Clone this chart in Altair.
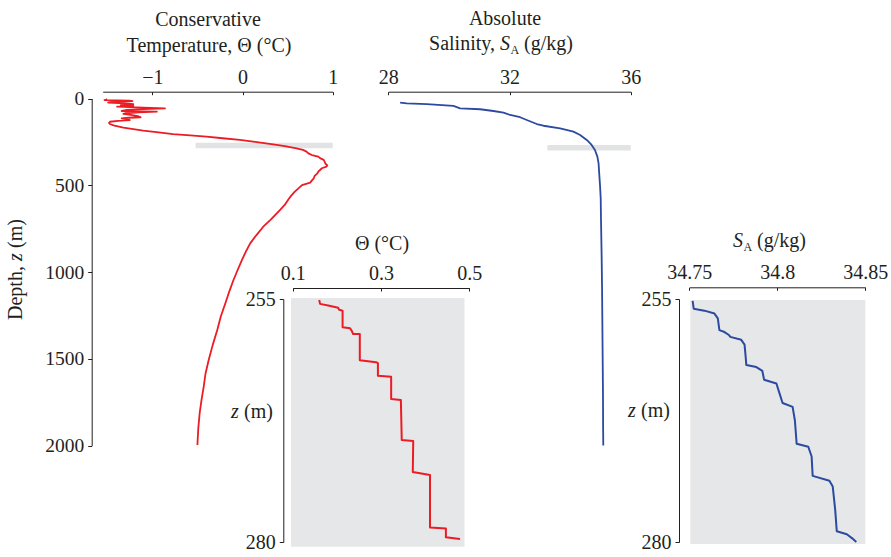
import altair as alt
import pandas as pd

FONT = "Liberation Serif"
RED = "#ec1c24"
BLUE = "#2c4a9f"
INK = "#231f20"
BAND = "#e2e3e4"
INSET_BG = "#e6e7e8"

# ---------------- data ----------------
temp_depth = [5, 9, 12, 15, 19, 24, 28, 33, 38, 43, 47, 51, 54, 57, 61, 66, 72, 74, 76, 80,
              85, 89, 95, 101, 108, 111, 114, 119, 124, 129, 134, 141, 147, 155, 162, 168,
              176, 185, 195, 205, 212, 220, 229, 239, 250, 264, 275, 287, 296, 306, 316, 326,
              335, 344, 354, 364, 376, 386, 393, 402, 412, 422, 431, 446, 460, 472, 485, 499,
              518, 537, 560, 581, 612, 640, 662, 700, 739, 790, 835, 880, 931, 990, 1046,
              1110, 1180, 1255, 1334, 1420, 1507, 1585, 1661, 1740, 1814, 1900, 1997]
temp_theta = [-1.50, -1.53, -1.25, -1.22, -1.44, -1.49, -1.30, -1.21, -1.35, -1.21, -1.39,
              -1.18, -1.02, -0.86, -1.10, -1.28, -1.34, -1.12, -0.95, -1.15, -1.30, -1.32,
              -1.24, -1.16, -1.13, -1.26, -1.34, -1.29, -1.25, -1.38, -1.47, -1.48, -1.47,
              -1.43, -1.37, -1.32, -1.21, -1.10, -0.93, -0.77, -0.58, -0.40, -0.22, -0.03,
              0.14, 0.34, 0.47, 0.60, 0.67, 0.71, 0.73, 0.77, 0.84, 0.86, 0.90, 0.91, 0.92,
              0.94, 0.93, 0.88, 0.86, 0.84, 0.83, 0.80, 0.79, 0.77, 0.75, 0.66, 0.62, 0.58,
              0.54, 0.51, 0.47, 0.42, 0.38, 0.31, 0.23, 0.15, 0.085, 0.04, -0.007, -0.055,
              -0.10, -0.145, -0.19, -0.24, -0.28, -0.33, -0.375, -0.41, -0.43, -0.455,
              -0.475, -0.49, -0.50]

sal_depth = [24, 28, 32, 43, 57, 62, 72, 82, 95, 108, 124, 147, 157, 172, 191, 210, 239,
             268, 297, 335, 374, 431, 508, 575, 700, 900, 1100, 1300, 1500, 1700, 1900, 2000]
sal_sa = [28.39, 28.61, 29.27, 30.15, 30.37, 31.03, 31.47, 31.80, 32.02, 32.35, 32.57,
          32.90, 33.12, 33.67, 34.11, 34.33, 34.55, 34.71, 34.82, 34.90, 34.94, 34.96,
          34.99, 35.01, 35.02, 35.04, 35.055, 35.065, 35.075, 35.085, 35.09, 35.095]

inset_t_depth = [255.1, 255.5, 255.7, 255.9, 256.1, 256.2, 257.9, 258.0, 258.3, 258.6,
                 258.6, 261.3, 261.5, 261.6, 262.9, 263.0, 265.3, 265.4, 269.5, 269.6,
                 272.8, 273.1, 278.5, 278.6, 279.5, 279.7]
inset_t_theta = [0.160, 0.162, 0.183, 0.203, 0.205, 0.213, 0.213, 0.230, 0.234, 0.237,
                 0.252, 0.252, 0.289, 0.293, 0.293, 0.323, 0.323, 0.345, 0.347, 0.373,
                 0.372, 0.411, 0.411, 0.447, 0.447, 0.479]

inset_s_depth = [255.2, 256.0, 256.2, 256.5, 257.0, 258.2, 258.4, 258.7, 258.9, 259.2,
                 259.7, 260.9, 261.8, 262.0, 262.4, 263.3, 263.7, 264.5, 265.7, 266.1,
                 267.5, 269.9, 270.2, 271.2, 273.2, 273.7, 274.3, 276.7, 278.9, 279.2,
                 279.6, 280.0]
inset_s_sa = [34.7519, 34.7525, 34.7586, 34.7643, 34.7662, 34.7671, 34.7700, 34.7725,
              34.7733, 34.7795, 34.7814, 34.7820, 34.7824, 34.7881, 34.7915, 34.7925,
              34.7995, 34.8009, 34.8030, 34.8087, 34.8100, 34.8110, 34.8176, 34.8195,
              34.8201, 34.8296, 34.8315, 34.8329, 34.8338, 34.8395, 34.8424, 34.8449]

temp_ticks = [-1, 0, 1]
sal_ticks = [28, 32, 36]
depth_ticks = [0, 500, 1000, 1500, 2000]
inset_t_ticks = [0.1, 0.3, 0.5]
inset_s_ticks = [34.75, 34.8, 34.85]
inset_depth_ticks = [255, 280]

# highlighted depth bands (value range x depth range)
temp_band_x = [-0.52, 1.0]
temp_band_z = [255, 287]
sal_band_x = [33.25, 36.0]
sal_band_z = [268, 300]
inset_t_bg_x = [0.096, 0.489]
inset_t_bg_z = [254.9, 280.5]
inset_s_bg_x = [34.7506, 34.85]
inset_s_bg_z = [255.1, 280.2]

# ---------------- layout (pixel placement of each panel) ----------------
W, H = 891, 557
T_DOM, T_RANGE = [-1.55, 1.0], [102.7, 332.7]
S_DOM, S_RANGE = [28, 36], [388.3, 630.7]
Z_DOM, Z_RANGE = [0, 2000], [98.5, 445.5]
TI_DOM, TI_RANGE = [0.1, 0.5], [292.7, 469.3]
SI_DOM, SI_RANGE = [34.75, 34.85], [689.3, 865.3]
ZI_DOM, ZI_RANGE_T, ZI_RANGE_S = [255, 280], [299, 542], [299, 542]


def sc(dom, rng):
    return alt.Scale(domain=dom, range=rng, nice=False, zero=False)


def top_axis(values, y, fmt):
    # bottom-oriented axis moved up so its ticks point into the panel, labels above
    return alt.Axis(orient="bottom", offset=y - H, values=values, format=fmt, title=None,
                    grid=False, tickSize=3, tickColor=INK, domainColor=INK, domainWidth=1,
                    tickWidth=1, labelFont=FONT, labelFontSize=20, labelColor=INK,
                    labelBaseline="alphabetic", labelAlign="center", labelPadding=-11.5,
                    labelFlush=False, labelOverlap=False)


def left_axis(values, x, size):
    return alt.Axis(orient="left", offset=-x, values=values, format="d", title=None,
                    grid=False, tickSize=4, tickColor=INK, domainColor=INK, domainWidth=1,
                    tickWidth=1, labelFont=FONT, labelFontSize=size, labelColor=INK,
                    labelPadding=4, labelFlush=False, labelOverlap=False)


def band(xr, zr, xdom, xrng, zdom, zrng, color):
    df = pd.DataFrame({"x1": [xr[0]], "x2": [xr[1]], "z1": [zr[0]], "z2": [zr[1]]})
    return alt.Chart(df).mark_rect(color=color).encode(
        x=alt.X("x1:Q", scale=sc(xdom, xrng), axis=None), x2="x2:Q",
        y=alt.Y("z1:Q", scale=sc(zdom, zrng), axis=None), y2="z2:Q")


def profile(xs, zs, xdom, xrng, zdom, zrng, color, width, xaxis, yaxis):
    df = pd.DataFrame({"v": xs, "z": zs, "i": list(range(len(xs)))})
    return alt.Chart(df).mark_line(color=color, strokeWidth=width, strokeJoin="round").encode(
        x=alt.X("v:Q", scale=sc(xdom, xrng), axis=xaxis),
        y=alt.Y("z:Q", scale=sc(zdom, zrng), axis=yaxis),
        order="i:Q")


def label(text, x, y, size=20, italic=False, align="center", angle=0, baseline="alphabetic"):
    return alt.Chart(pd.DataFrame({"t": [text]})).mark_text(
        font=FONT, fontSize=size, fontStyle="italic" if italic else "normal", color=INK,
        align=align, baseline=baseline, angle=angle).encode(
        text="t:N", x=alt.value(x), y=alt.value(y))


layers = [
    band(temp_band_x, temp_band_z, T_DOM, T_RANGE, Z_DOM, Z_RANGE, BAND),
    profile(temp_theta, temp_depth, T_DOM, T_RANGE, Z_DOM, Z_RANGE, RED, 1.8,
            top_axis(temp_ticks, 91.7, "d"), left_axis(depth_ticks, 91.7, 19.5)),
    band(sal_band_x, sal_band_z, S_DOM, S_RANGE, Z_DOM, Z_RANGE, BAND),
    profile(sal_sa, sal_depth, S_DOM, S_RANGE, Z_DOM, Z_RANGE, BLUE, 1.8,
            top_axis(sal_ticks, 91.7, "d"), None),
    band(inset_t_bg_x, inset_t_bg_z, TI_DOM, TI_RANGE, ZI_DOM, ZI_RANGE_T, INSET_BG),
    profile(inset_t_theta, inset_t_depth, TI_DOM, TI_RANGE, ZI_DOM, ZI_RANGE_T, RED, 2.0,
            top_axis(inset_t_ticks, 288, ".1f"), left_axis(inset_depth_ticks, 283.3, 20)),
    band(inset_s_bg_x, inset_s_bg_z, SI_DOM, SI_RANGE, ZI_DOM, ZI_RANGE_S, INSET_BG),
    profile(inset_s_sa, inset_s_depth, SI_DOM, SI_RANGE, ZI_DOM, ZI_RANGE_S, BLUE, 2.0,
            top_axis(inset_s_ticks, 287.3, ".2~f"), left_axis(inset_depth_ticks, 679, 20)),
    # titles
    label("Conservative", 208, 26),
    label("Temperature, Θ (°C)", 209, 51.5),
    label("Absolute", 505, 25),
    label("Salinity,", 495, 49.5, align="right"),
    label("S", 500, 49.5, italic=True, align="left"),
    label("A", 510.5, 53.5, size=12, align="left"),
    label("(g/kg)", 524, 49.5, align="left"),
    label("Θ (°C)", 382, 250),
    label("S", 733, 247, italic=True, align="left"),
    label("A", 743.5, 251, size=12, align="left"),
    label("(g/kg)", 757, 247, align="left"),
    label("z", 231, 412, italic=True, align="left", baseline="middle"),
    label("(m)", 244, 412, align="left", baseline="middle"),
    label("z", 628, 411, italic=True, align="left", baseline="middle"),
    label("(m)", 641, 411, align="left", baseline="middle"),
    label("Depth,", 15.5, 320, align="left", angle=270, baseline="middle"),
    label("z", 15.5, 261, italic=True, align="left", angle=270, baseline="middle"),
    label("(m)", 15.5, 248, align="left", angle=270, baseline="middle"),
]

chart = alt.layer(*layers).resolve_scale(x="independent", y="independent").resolve_axis(
    x="independent", y="independent").properties(
    width=W, height=H, autosize=alt.AutoSizeParams(type="none"), padding=0,
    background="white").configure_view(stroke=None)

chart.save("out.html", embed_options={"renderer": "svg", "actions": False})
